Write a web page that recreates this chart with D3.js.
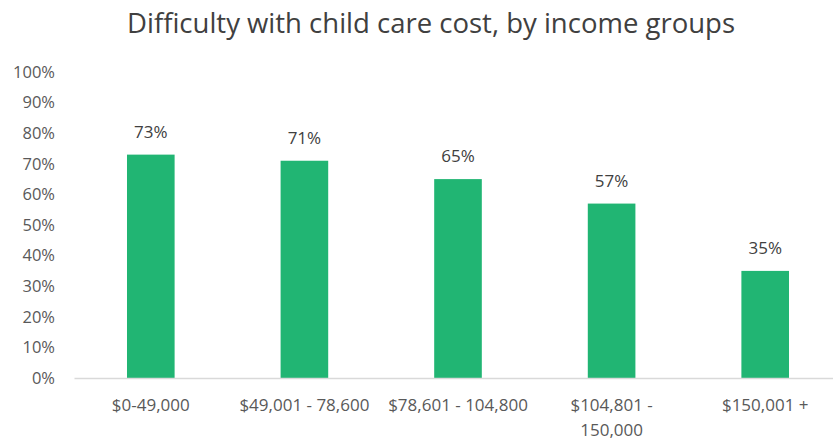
<!DOCTYPE html>
<html>
<head>
<meta charset="utf-8">
<script src="https://cdn.jsdelivr.net/npm/d3@7"></script>
<style>
  body { margin: 0; background: #fff; }
  text { font-family: "Open Sans", "Noto Sans", sans-serif; }
</style>
</head>
<body>
<div id="chart"></div>
<script>
// chart data
const incomeGroups = ["$0-49,000", "$49,001 - 78,600", "$78,601 - 104,800", "$104,801 - 150,000", "$150,001 +"];
const difficultyShare = [0.73, 0.71, 0.65, 0.57, 0.35];
const yTicks = [0, 0.1, 0.2, 0.3, 0.4, 0.5, 0.6, 0.7, 0.8, 0.9, 1.0];

const width = 833, height = 443;
const barColor = "#21b573";
const textColor = "#595959";

const svg = d3.select("#chart").append("svg")
    .attr("width", width)
    .attr("height", height);

// scales
const x = d3.scaleBand().domain(incomeGroups).range([74, 842]).paddingInner(0.69).paddingOuter(0.345);
const y = d3.scaleLinear().domain([0, 1]).range([378, 72]);

// title
svg.append("text")
    .attr("x", 431)
    .attr("y", 33)
    .attr("text-anchor", "middle")
    .attr("fill", "#404040")
    .style("font-size", "27.5px")
    .text("Difficulty with child care cost, by income groups");

// y axis labels (no line)
const yAxis = svg.append("g")
    .attr("transform", "translate(55,0)")
    .call(d3.axisLeft(y).tickValues(yTicks).tickFormat(d3.format(".0%")).tickSize(0).tickPadding(0));
yAxis.select(".domain").remove();
yAxis.selectAll("text")
    .attr("fill", textColor)
    .style("font-size", "16.5px")
    .style("font-family", "'Open Sans', sans-serif");

// bars
svg.selectAll(".bar")
    .data(difficultyShare)
    .enter().append("rect")
    .attr("class", "bar")
    .attr("x", (d, i) => x(incomeGroups[i]))
    .attr("y", d => y(d))
    .attr("width", x.bandwidth())
    .attr("height", d => y(0) - y(d))
    .attr("fill", barColor);

// value labels
svg.selectAll(".val")
    .data(difficultyShare)
    .enter().append("text")
    .attr("class", "val")
    .attr("x", (d, i) => x(incomeGroups[i]) + x.bandwidth() / 2)
    .attr("y", d => y(d) - 17)
    .attr("text-anchor", "middle")
    .attr("fill", "#404040")
    .style("font-size", "17px")
    .text(d => `${Math.round(d * 100)}%`);

// x axis
const xAxis = svg.append("g")
    .attr("transform", `translate(0,${y(0)})`)
    .call(d3.axisBottom(x).tickSize(0).tickPadding(0));
xAxis.select(".domain").attr("stroke", "#d9d9d9").attr("stroke-width", 1.5);
xAxis.selectAll("text").remove();

// category labels, wrapped when too wide for a slot
svg.selectAll(".cat")
    .data(incomeGroups)
    .enter().append("text")
    .attr("class", "cat")
    .attr("x", d => x(d) + x.bandwidth() / 2)
    .attr("y", 411)
    .attr("text-anchor", "middle")
    .attr("fill", textColor)
    .style("font-size", "17px")
    .each(function(d) {
        const el = d3.select(this);
        const cx = el.attr("x");
        const words = d.split(" ");
        let line = [];
        let tspan = el.append("tspan").attr("x", cx);
        words.forEach(w => {
            line.push(w);
            tspan.text(line.join(" "));
            if (tspan.node().getComputedTextLength() > 146 && line.length > 1) {
                line.pop();
                tspan.text(line.join(" "));
                line = [w];
                tspan = el.append("tspan").attr("x", cx).attr("dy", "25").text(w);
            }
        });
    });
</script>
</body>
</html>
